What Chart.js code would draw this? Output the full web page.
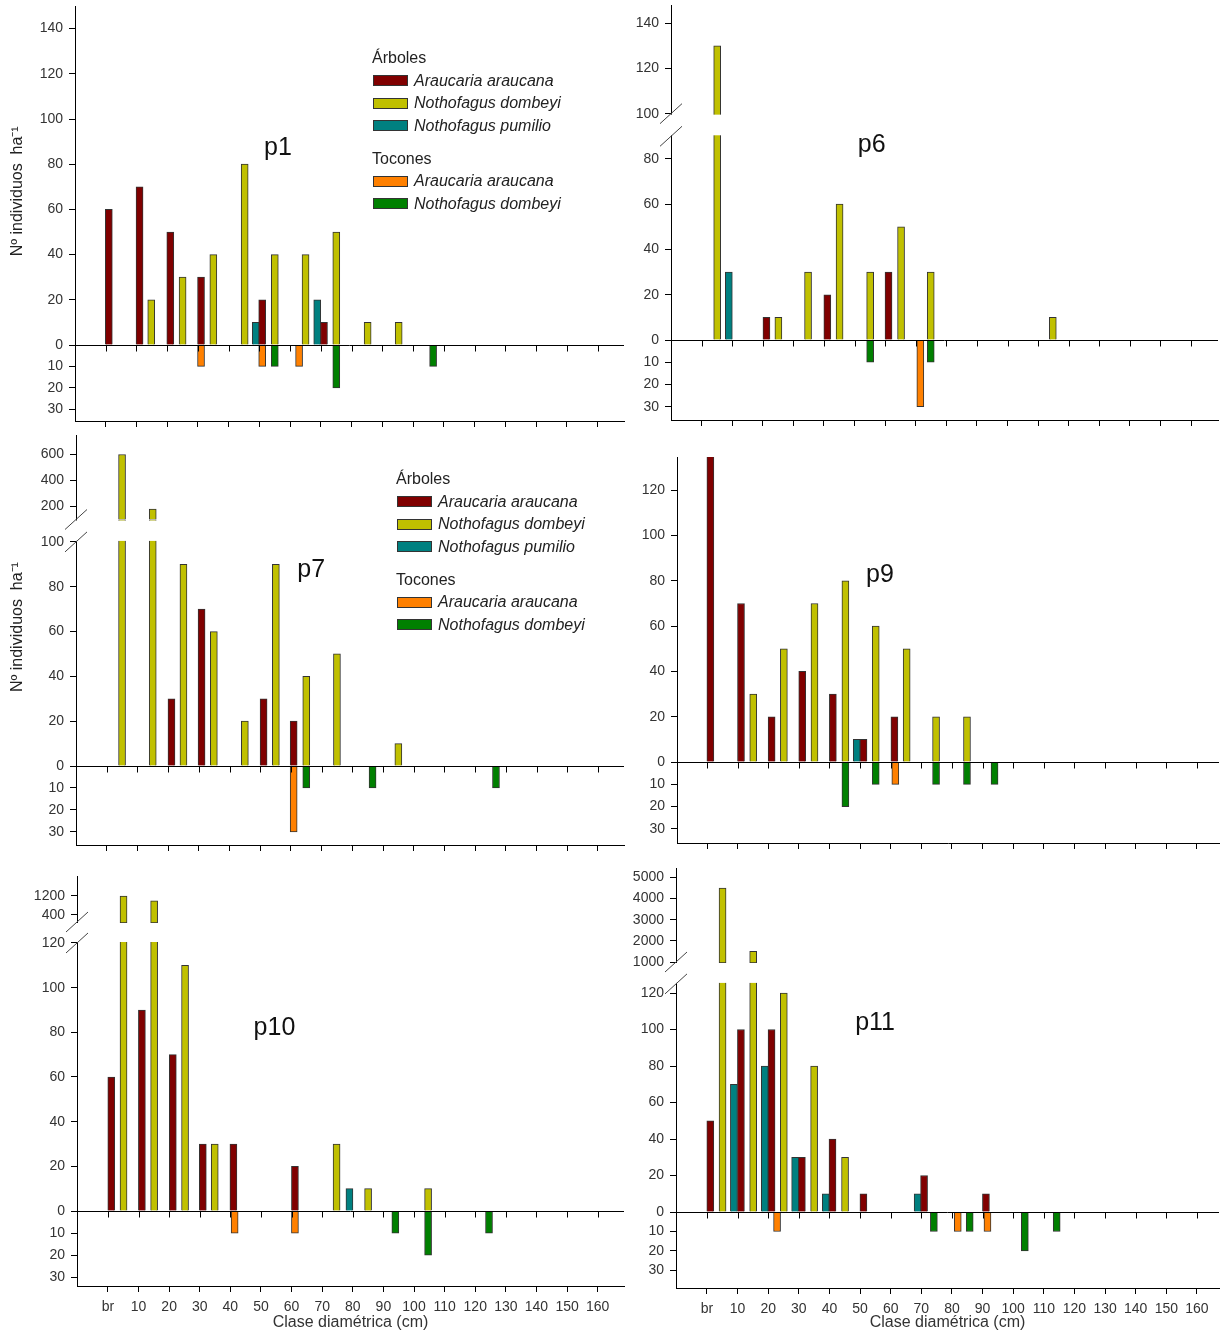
<!DOCTYPE html>
<html>
<head>
<meta charset="utf-8">
<script src="https://cdn.jsdelivr.net/npm/chart.js@4.4.1/dist/chart.umd.min.js"></script>
<style>
  body { margin: 0; background: #fff; width: 1220px; height: 1334px; position: relative; overflow: hidden;
         font-family: "Liberation Sans", Arial, sans-serif; }
  canvas { position: absolute; }
  .legend { position: absolute; font-size: 16px; line-height: 22.5px; color: #222; white-space: nowrap; }
  .legend .row { display: flex; align-items: center; }
  .legend .sw { display: inline-block; width: 33px; height: 9px; border: 1px solid #333; margin: 0 6px 0 1px; }
  .legend i { font-style: italic; }
  .legend .gap { margin-top: 10.5px; }
</style>
</head>
<body>
<script>
// diameter classes (cm) on the x axis
const classValues = [0, 10, 20, 30, 40, 50, 60, 70, 80, 90, 100, 110, 120, 130, 140, 150, 160];
const classLabels = ['br', '10', '20', '30', '40', '50', '60', '70', '80', '90', '100', '110', '120', '130', '140', '150', '160'];

// each point: [diameter (cm), individuos ha-1]
// p1
const p1Araucaria = [[1, 60], [11, 70], [21, 50], [31, 30], [50.9, 20], [71, 10]];
const p1Dombeyi = [[14.8, 20], [25, 30], [35, 40], [45.2, 80], [55, 40], [65, 40], [75, 50], [85.2, 10], [95.3, 10]];
const p1Pumilio = [[48.8, 10], [68.8, 20]];
const p1StumpAraucaria = [[31, 10], [50.9, 10], [62.9, 10]];
const p1StumpDombeyi = [[55, 10], [75, 20], [106.5, 10]];

// p6
const p6Araucaria = [[21.2, 10], [41.1, 20], [61.1, 30]];
const p6Dombeyi = [[5.1, 130], [25.1, 10], [34.8, 30], [45.1, 60], [55.1, 30], [65.2, 50], [74.9, 30], [114.8, 10]];
const p6Pumilio = [[8.9, 30]];
const p6StumpAraucaria = [[71.5, 30]];
const p6StumpDombeyi = [[55.1, 10], [74.9, 10]];

// p7
const p7Araucaria = [[21.1, 30], [30.9, 70], [51.1, 30], [60.9, 20]];
const p7Dombeyi = [[5, 600], [15, 180], [25, 90], [34.9, 60], [45, 20], [55.1, 90], [65, 40], [75, 50], [95, 10]];
const p7Pumilio = [];
const p7StumpAraucaria = [[60.9, 30]];
const p7StumpDombeyi = [[65, 10], [86.6, 10], [126.8, 10]];

// p9
const p9Araucaria = [[1.1, 135], [11.1, 70], [21.1, 20], [31.1, 40], [41.1, 30], [51.1, 10], [61.2, 20]];
const p9Dombeyi = [[15.1, 30], [25.1, 50], [35.1, 70], [45.2, 80], [55.1, 60], [65.2, 50], [74.8, 20], [84.9, 20]];
const p9Pumilio = [[48.9, 10]];
const p9StumpAraucaria = [[61.5, 10]];
const p9StumpDombeyi = [[45.2, 20], [55.1, 10], [74.8, 10], [84.9, 10], [93.9, 10]];

// p10
const p10Araucaria = [[1.1, 60], [11.1, 90], [21.2, 70], [31, 30], [41, 30], [61.1, 20]];
const p10Dombeyi = [[5.1, 1200], [15.1, 1000], [25.2, 110], [34.9, 30], [74.7, 30], [85, 10], [104.6, 10]];
const p10Pumilio = [[78.9, 10]];
const p10StumpAraucaria = [[41.4, 10], [61.1, 10]];
const p10StumpDombeyi = [[93.9, 10], [104.6, 20], [124.5, 10]];

// p11
const p11Araucaria = [[1.1, 50], [11.1, 100], [21.1, 100], [31, 30], [41, 40], [51.1, 10], [70.9, 20], [91.1, 10]];
const p11Dombeyi = [[5.1, 4500], [15.1, 1500], [25.1, 120], [35, 80], [45.1, 30]];
const p11Pumilio = [[8.8, 70], [18.9, 80], [28.8, 30], [38.8, 10], [68.8, 10]];
const p11StumpAraucaria = [[22.9, 10], [81.9, 10], [91.6, 10]];
const p11StumpDombeyi = [[74.1, 10], [85.8, 10], [103.8, 20], [114.2, 10]];

const treeNames = ['Araucaria araucana', 'Nothofagus dombeyi', 'Nothofagus pumilio'];
const stumpNames = ['Araucaria araucana', 'Nothofagus dombeyi'];
const treeColors = ['#800000', '#c0c000', '#008080'];
const stumpColors = ['#ff8000', '#008000'];

const FONT = '"Liberation Sans", Arial, sans-serif';
const Y_TITLE = 'Nº individuos  ha⁻¹';

// layout: box = canvas [left, top, w, h]; area = plot [left, top, right, bottom]
const panels = [
  { name: 'p1', box: [0, 0, 625, 432], area: [75, 6, 624, 421], xRange: [-10, 168.6],
    trees: [p1Araucaria, p1Dombeyi, p1Pumilio], stumps: [p1StumpAraucaria, p1StumpDombeyi],
    main: { max: 150, ticks: [0, 20, 40, 60, 80, 100, 120, 140], weight: 339 },
    neg: { max: 35.5, weight: 76 }, upper: null, brk: null,
    label: [56, 84], yTitle: 68, legend: [372, 47], xLabels: false },
  { name: 'p6', box: [625, 0, 595, 432], area: [671, 5, 1218, 420], xRange: [-10, 168.8],
    trees: [p6Araucaria, p6Dombeyi, p6Pumilio], stumps: [p6StumpAraucaria, p6StumpDombeyi],
    main: { max: 148, ticks: [0, 20, 40, 60, 80, 100, 120, 140], weight: 335 },
    neg: { max: 36, weight: 80 }, upper: null, brk: { from: 90, to: 100 },
    label: [55.6, 83], yTitle: null, legend: null, xLabels: false },
  { name: 'p7', box: [0, 432, 625, 425], area: [76, 435, 624, 845], xRange: [-10, 168.5],
    trees: [p7Araucaria, p7Dombeyi, p7Pumilio], stumps: [p7StumpAraucaria, p7StumpDombeyi],
    main: { max: 110, ticks: [0, 20, 40, 60, 80, 100], weight: 246.5 },
    neg: { max: 36, weight: 79 }, upper: { min: 100, max: 750, ticks: [200, 400, 600], weight: 84.5 },
    brk: { from: 100, to: 110 },
    label: [66.6, 84.4], yTitle: 62, legend: [396, 468], xLabels: false },
  { name: 'p9', box: [625, 432, 595, 425], area: [677, 457, 1219, 843], xRange: [-9.8, 167.2],
    trees: [p9Araucaria, p9Dombeyi, p9Pumilio], stumps: [p9StumpAraucaria, p9StumpDombeyi],
    main: { max: 134.7, ticks: [0, 20, 40, 60, 80, 100, 120], weight: 305 },
    neg: { max: 36.3, weight: 81 }, upper: null, brk: null,
    label: [56.5, 79.5], yTitle: null, legend: null, xLabels: false },
  { name: 'p10', box: [0, 857, 625, 477], area: [77, 876, 624, 1286], xRange: [-10.1, 168.6],
    trees: [p10Araucaria, p10Dombeyi, p10Pumilio], stumps: [p10StumpAraucaria, p10StumpDombeyi],
    main: { max: 129.4, ticks: [0, 20, 40, 60, 80, 100, 120], weight: 289 },
    neg: { max: 34, weight: 75 }, upper: { min: 105, max: 2040, ticks: [400, 1200], weight: 46 },
    brk: { from: 120, to: 129.4 },
    label: [54.4, 78.8], yTitle: null, legend: null, xLabels: true },
  { name: 'p11', box: [625, 857, 595, 477], area: [676, 868, 1219, 1288], xRange: [-10.1, 167.2],
    trees: [p11Araucaria, p11Dombeyi, p11Pumilio], stumps: [p11StumpAraucaria, p11StumpDombeyi],
    main: { max: 137, ticks: [0, 20, 40, 60, 80, 100, 120], weight: 250 },
    neg: { max: 39, weight: 76 }, upper: { min: 1000, max: 5450, ticks: [1000, 2000, 3000, 4000, 5000], weight: 94 },
    brk: { from: 125, to: 137 },
    label: [54.9, 99.7], yTitle: null, legend: null, xLabels: true }
];

function barSet(label, color, axis, data) {
  return {
    label, data, yAxisID: axis, xAxisID: 'x',
    backgroundColor: color, borderColor: '#333', borderWidth: 1,
    barThickness: 7, grouped: false
  };
}

// no extra layout padding from the tick labels
function noPad(s) {
  s.paddingTop = 0; s.paddingBottom = 0; s.paddingLeft = 0; s.paddingRight = 0;
}

function yAxis(p, opts) {
  const axisW = p.area[0] - p.box[0];
  return {
    type: 'linear', position: 'left', stack: 'v',
    stackWeight: opts.weight, weight: opts.order,
    min: opts.min || 0, max: opts.max, reverse: !!opts.reverse,
    afterBuildTicks: s => { s.ticks = opts.ticks.map(v => ({ value: v })); },
    afterFit: s => { s.width = axisW; noPad(s); },
    grid: { drawOnChartArea: false, drawTicks: true, tickLength: 6, color: '#000' },
    border: { color: '#000', width: 1 },
    ticks: { autoSkip: false, font: { family: FONT, size: 14 }, color: '#333', padding: 6, callback: v => String(v) }
  };
}

function makeChart(p) {
  const canvas = document.createElement('canvas');
  canvas.width = p.box[2];
  canvas.height = p.box[3];
  canvas.style.left = p.box[0] + 'px';
  canvas.style.top = p.box[1] + 'px';
  document.body.appendChild(canvas);

  const axisH = p.box[1] + p.box[3] - p.area[3];
  const cap = p.upper ? p.main.max : Infinity;
  const datasets = [];

  p.trees.forEach((pts, i) => {
    datasets.push(barSet(treeNames[i], treeColors[i], 'y',
      pts.map(([x, v]) => ({ x, y: Math.min(v, cap) }))));
    if (p.upper) {
      datasets.push(barSet(treeNames[i], treeColors[i], 'yTop',
        pts.filter(([x, v]) => v > cap).map(([x, v]) => ({ x, y: [p.upper.min, v] }))));
    }
  });
  p.stumps.forEach((pts, i) => {
    datasets.push(barSet(stumpNames[i], stumpColors[i], 'yNeg', pts.map(([x, v]) => ({ x, y: v }))));
  });

  const scales = {
    x: {
      type: 'linear', min: p.xRange[0], max: p.xRange[1], offset: false,
      afterBuildTicks: s => { s.ticks = classValues.map(v => ({ value: v })); },
      afterFit: s => { s.height = axisH; noPad(s); },
      grid: { offset: false, drawOnChartArea: false, drawTicks: true, tickLength: 6, color: '#000' },
      border: { color: '#000', width: 1 },
      ticks: { display: p.xLabels, autoSkip: false, maxRotation: 0, padding: 7,
               font: { family: FONT, size: 14 }, color: '#333',
               callback: v => classLabels[classValues.indexOf(v)] },
      title: { display: p.xLabels, text: 'Clase diamétrica (cm)', color: '#333',
               font: { family: FONT, size: 16 }, padding: { top: 0, bottom: 2 } }
    },
    y: yAxis(p, { max: p.main.max, ticks: p.main.ticks, weight: p.main.weight, order: 2 }),
    yNeg: yAxis(p, { max: p.neg.max, ticks: [10, 20, 30], weight: p.neg.weight, order: 1, reverse: true })
  };
  if (p.upper) {
    scales.yTop = yAxis(p, { min: p.upper.min, max: p.upper.max, ticks: p.upper.ticks, weight: p.upper.weight, order: 3 });
  }

  const decor = {
    id: 'decor',
    afterDatasetsDraw(chart) {
      const { ctx, chartArea: a } = chart;
      const xs = chart.scales.x, ys = chart.scales.y;
      ctx.save();
      // axis break: blank band + two slashes
      if (p.brk) {
        const yA = ys.getPixelForValue(p.brk.to), yB = ys.getPixelForValue(p.brk.from);
        ctx.fillStyle = '#fff';
        ctx.fillRect(a.left - 2, yA + 1, a.right - a.left + 3, yB - yA - 2);
        ctx.strokeStyle = '#444';
        ctx.lineWidth = 1;
        [yA, yB].forEach(yy => {
          ctx.beginPath();
          ctx.moveTo(a.left - 11, yy + 10);
          ctx.lineTo(a.left + 11, yy - 10);
          ctx.stroke();
        });
      }
      // zero line with its tick marks
      const y0 = Math.round(ys.getPixelForValue(0)) + 0.5;
      ctx.strokeStyle = '#000';
      ctx.lineWidth = 1;
      ctx.beginPath();
      ctx.moveTo(a.left, y0);
      ctx.lineTo(a.right, y0);
      xs.ticks.forEach(t => {
        const px = Math.round(xs.getPixelForValue(t.value)) + 0.5;
        ctx.moveTo(px, y0);
        ctx.lineTo(px, y0 + 6);
      });
      ctx.stroke();
      // panel name
      ctx.fillStyle = '#111';
      ctx.font = '25px ' + FONT;
      ctx.textAlign = 'center';
      ctx.textBaseline = 'alphabetic';
      ctx.fillText(p.name, xs.getPixelForValue(p.label[0]), ys.getPixelForValue(p.label[1]));
      // y title
      if (p.yTitle != null) {
        ctx.translate(18, ys.getPixelForValue(p.yTitle));
        ctx.rotate(-Math.PI / 2);
        ctx.font = '16px ' + FONT;
        ctx.fillStyle = '#222';
        ctx.textBaseline = 'middle';
        ctx.fillText(Y_TITLE, 0, 0);
      }
      ctx.restore();
    }
  };

  new Chart(canvas, {
    type: 'bar',
    data: { datasets },
    options: {
      responsive: false,
      animation: false,
      devicePixelRatio: 1,
      layout: {
        autoPadding: false,
        padding: { top: p.area[1] - p.box[1], right: p.box[0] + p.box[2] - p.area[2], left: 0, bottom: 0 }
      },
      plugins: { legend: { display: false }, tooltip: { enabled: false } },
      scales
    },
    plugins: [decor]
  });

  if (p.legend) {
    const lg = document.createElement('div');
    lg.className = 'legend';
    lg.style.left = p.legend[0] + 'px';
    lg.style.top = p.legend[1] + 'px';
    let html = '<div>Árboles</div>';
    treeNames.forEach((n, i) => {
      html += `<div class="row"><span class="sw" style="background:${treeColors[i]}"></span><i>${n}</i></div>`;
    });
    html += '<div class="gap">Tocones</div>';
    stumpNames.forEach((n, i) => {
      html += `<div class="row"><span class="sw" style="background:${stumpColors[i]}"></span><i>${n}</i></div>`;
    });
    lg.innerHTML = html;
    document.body.appendChild(lg);
  }
}

panels.forEach(makeChart);
</script>
</body>
</html>
